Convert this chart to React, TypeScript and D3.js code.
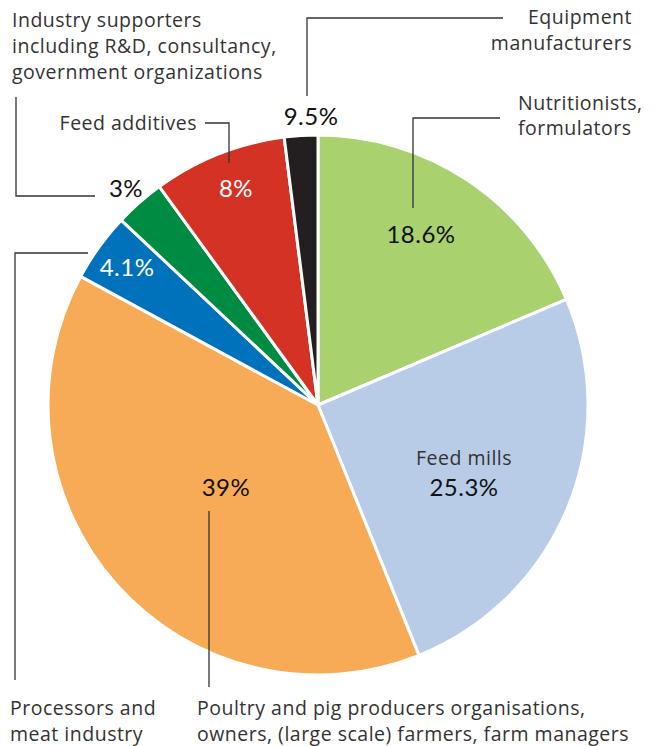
import React from 'react';
import * as d3 from 'd3';

// slices clockwise from 12 o'clock
const categories = [
  'Nutritionists, formulators',
  'Feed mills',
  'Poultry and pig producers organisations, owners, (large scale) farmers, farm managers',
  'Processors and meat industry',
  'Industry supporters including R&D, consultancy, government organizations',
  'Feed additives',
  'Equipment manufacturers',
];
const shares = [18.6, 25.3, 39, 4.1, 3, 8, 2];
const valueLabels = ['18.6%', '25.3%', '39%', '4.1%', '3%', '8%', '9.5%'];
const sliceColors = ['#A9D16E', '#B8CCE8', '#F7AB56', '#0071BB', '#008B43', '#D33224', '#231F20'];

const width = 656;
const height = 746;
const cx = 318;
const cy = 405;
const radius = 270;

const NAME_FONT = '"Open Sans", Lato, sans-serif';
const VALUE_FONT = 'Lato, "Open Sans", sans-serif';
const labelColor = '#333';

// label layout: name lines, value text, leader line points
const layout = [
  { name: ['Nutritionists,', 'formulators'], nx: 518, ny: [110, 135], anchor: 'start',
    vx: 421, vy: 243, vColor: '#111', line: [[500, 118], [413, 118], [413, 208]] },
  { name: ['Feed mills'], nx: 464, ny: [465], anchor: 'middle',
    vx: 464, vy: 496, vColor: '#111', line: [] },
  { name: ['Poultry and pig producers organisations,', 'owners, (large scale) farmers, farm managers'], nx: 197, ny: [715, 741], anchor: 'start',
    vx: 226, vy: 496, vColor: '#111', line: [[209, 511], [209, 687]] },
  { name: ['Processors and', 'meat industry'], nx: 10, ny: [715, 741], anchor: 'start',
    vx: 127, vy: 276, vColor: '#fff', line: [[88, 253], [15, 253], [15, 680]] },
  { name: ['Industry supporters', 'including R&D, consultancy,', 'government organizations'], nx: 12, ny: [27, 53, 79], anchor: 'start',
    vx: 126, vy: 197, vColor: '#111', line: [[16, 97], [16, 196], [95, 196]] },
  { name: ['Feed additives'], nx: 197, ny: [130], anchor: 'end',
    vx: 236, vy: 197, vColor: '#fff', line: [[205, 123], [229, 123], [229, 163]] },
  { name: ['Equipment', 'manufacturers'], nx: 632, ny: [24, 50], anchor: 'end',
    vx: 311, vy: 125, vColor: '#111', line: [[503, 18], [307, 18], [307, 96]] },
];

const App: React.FC = () => {
  const pie = d3.pie<number>().sort(null).value(d => d);
  const arcs = pie(shares);
  const arc = d3.arc<d3.PieArcDatum<number>>().innerRadius(0).outerRadius(radius);

  return (
    <svg width={width} height={height} style={{ position: 'absolute', left: 0, top: 0 }}>
      <rect width={width} height={height} fill="#fff" />
      <g transform={`translate(${cx},${cy})`}>
        {arcs.map((a, i) => (
          <path key={categories[i]} d={arc(a) || ''} fill={sliceColors[i]} stroke="#fff" strokeWidth={3} strokeLinejoin="round" />
        ))}
      </g>
      {layout.map((l, i) => (
        <g key={i}>
          {l.line.length > 0 && (
            <path d={d3.line()(l.line as [number, number][]) || ''} fill="none" stroke={labelColor} strokeWidth={1.3} />
          )}
          <text fontFamily={NAME_FONT} fontSize={19.5} fill={labelColor} textAnchor={l.anchor} letterSpacing={0.5}>
            {l.name.map((t, j) => (
              <tspan key={j} x={l.nx} y={l.ny[j]}>{t}</tspan>
            ))}
          </text>
          <text x={l.vx} y={l.vy} fontFamily={VALUE_FONT} fontSize={24} fill={l.vColor} textAnchor="middle" letterSpacing={0.5}>
            {valueLabels[i]}
          </text>
        </g>
      ))}
    </svg>
  );
};

export default App;
